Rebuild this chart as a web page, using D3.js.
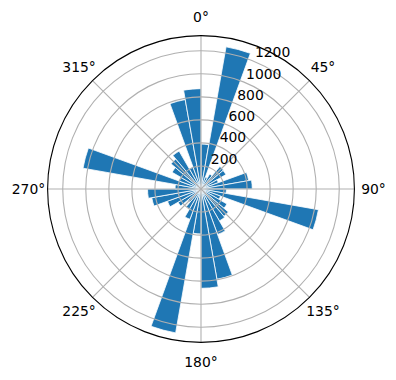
<!DOCTYPE html>
<html>
<head>
<meta charset="utf-8">
<script src="https://cdn.jsdelivr.net/npm/d3@7"></script>
<style>
  body { margin: 0; background: #fff; }
  text { font-family: "DejaVu Sans", sans-serif; }
</style>
</head>
<body>
<script>
var width = 396,
  height = 380,
  cx = 201,
  cy = 189;

// bin start angles (degrees, clockwise from north), each bin 10 degrees wide
var dirs = [0, 10, 20, 30, 40, 50, 60, 70, 80, 90, 100, 110,
  120, 130, 140, 150, 160, 170, 180, 190, 200, 210, 220, 230,
  240, 250, 260, 270, 280, 290, 300, 310, 320, 330, 340, 350];
var counts = [390, 1253, 110, 150, 255, 250, 160, 420, 445, 220, 1035, 180,
  260, 310, 320, 420, 795, 862, 390, 1268, 280, 200, 150, 230,
  310, 434, 464, 225, 1040, 200, 290, 340, 380, 200, 788, 871];
var rTicks = [200, 400, 600, 800, 1000, 1200];
var angleTicks = [0, 45, 90, 135, 180, 225, 270, 315];
var binWidth = 10;

var rMax = d3.max(counts) * 1.05;

var svg = d3.select("body")
  .append("svg")
  .attr("width", width)
  .attr("height", height);

var g = svg.append("g")
  .attr("transform", "translate(" + cx + "," + cy + ")");

var rScale = d3.scaleLinear()
  .domain([0, rMax])
  .range([0, 153.4]);

var rad = function (deg) { return deg * Math.PI / 180; };

//----------Bars----------
var arc = d3.arc()
  .innerRadius(0)
  .outerRadius(function (d) { return rScale(d.v); })
  .startAngle(function (d) { return rad(d.a); })
  .endAngle(function (d) { return rad(d.a + binWidth); });

g.selectAll("path.bar")
  .data(dirs.map(function (a, i) { return { a: a, v: counts[i] }; }))
  .enter()
  .append("path")
  .attr("class", "bar")
  .attr("d", arc)
  .attr("fill", "#1f77b4")
  .attr("stroke", "#fff")
  .attr("stroke-width", 0.8);

//----------Grid----------
g.selectAll("circle.grid")
  .data(rTicks)
  .enter()
  .append("circle")
  .attr("r", function (d) { return rScale(d); })
  .attr("fill", "none")
  .attr("stroke", "#b0b0b0")
  .attr("stroke-width", 1.1);

g.selectAll("line.spoke")
  .data(angleTicks)
  .enter()
  .append("line")
  .attr("x1", 0)
  .attr("y1", 0)
  .attr("x2", function (d) { return rScale(rMax) * Math.sin(rad(d)); })
  .attr("y2", function (d) { return -rScale(rMax) * Math.cos(rad(d)); })
  .attr("stroke", "#b0b0b0")
  .attr("stroke-width", 1.1);

// outer frame
g.append("circle")
  .attr("r", rScale(rMax))
  .attr("fill", "none")
  .attr("stroke", "#000")
  .attr("stroke-width", 1.1);

//----------Labels----------
g.selectAll("text.angle")
  .data(angleTicks)
  .enter()
  .append("text")
  .attr("x", function (d) { return 172.5 * Math.sin(rad(d)); })
  .attr("y", function (d) { return -172.5 * Math.cos(rad(d)); })
  .attr("text-anchor", "middle")
  .attr("dominant-baseline", "central")
  .attr("font-size", 13.9)
  .text(function (d) { return d + "°"; });

g.selectAll("text.rlabel")
  .data(rTicks)
  .enter()
  .append("text")
  .attr("x", function (d) { return rScale(d) * Math.sin(rad(22.5)) + 1; })
  .attr("y", function (d) { return -rScale(d) * Math.cos(rad(22.5)) - 4; })
  .attr("font-size", 13.9)
  .text(function (d) { return d; });
</script>
</body>
</html>
